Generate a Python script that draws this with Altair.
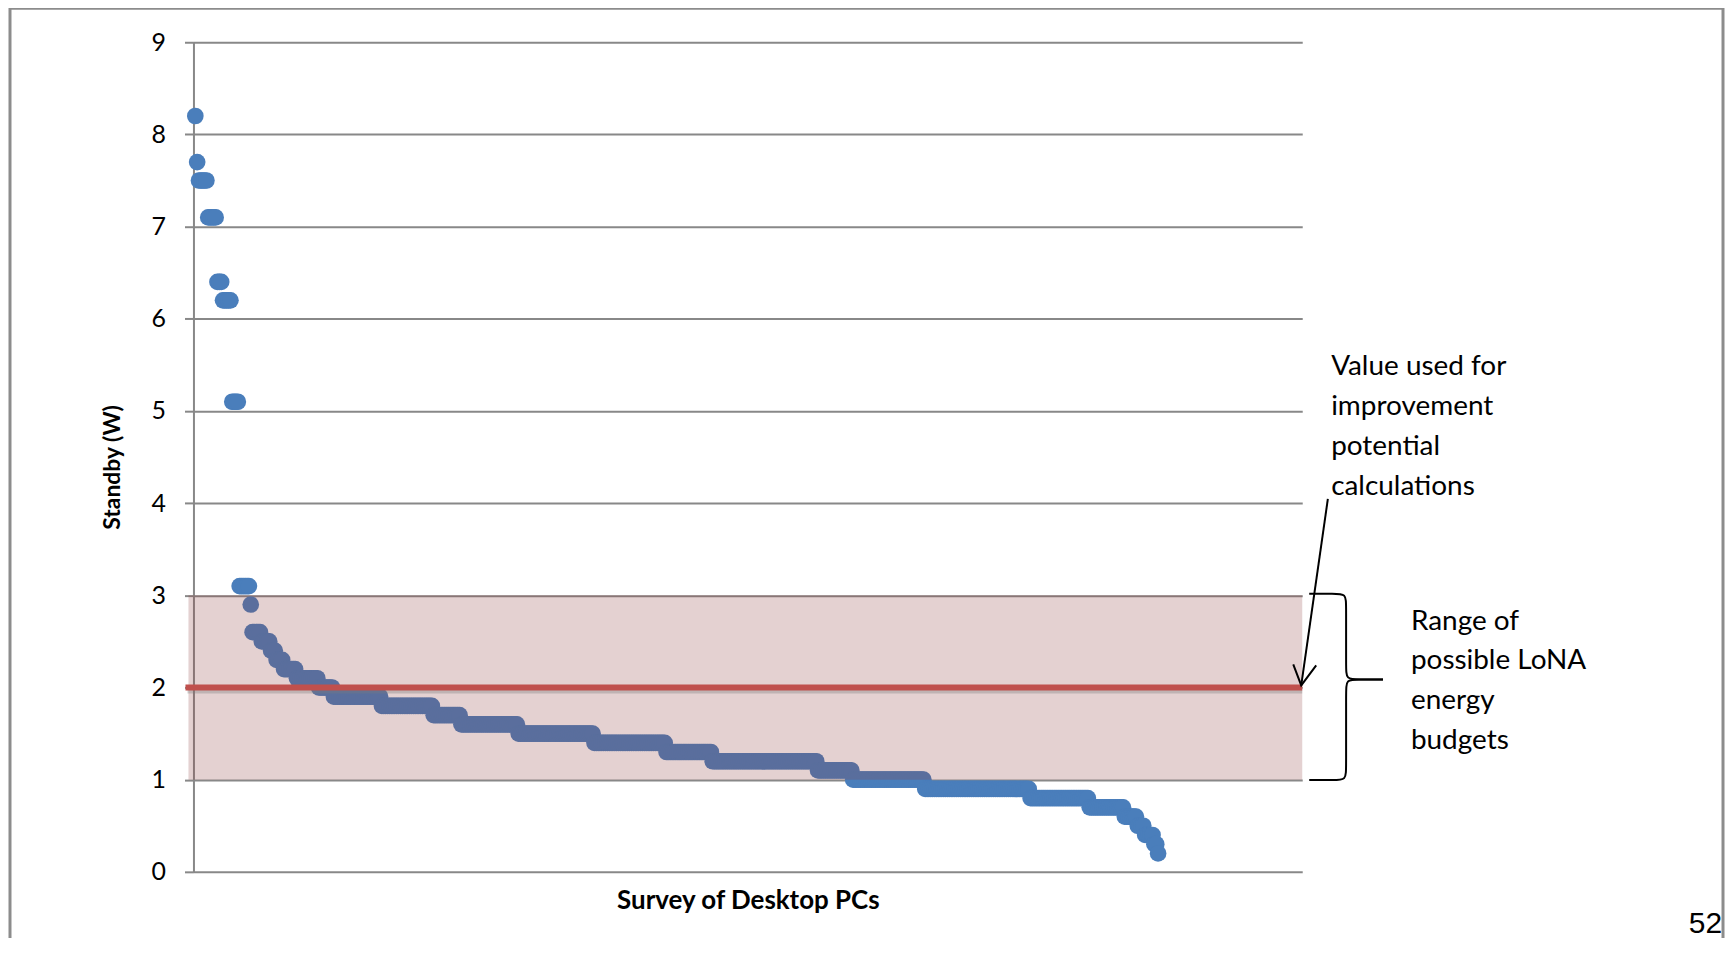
import altair as alt
import pandas as pd

# ---- data (sorted standby values, run-length) ----
levels = [8.2, 7.7, 7.5, 7.1, 6.4, 6.2, 5.1,
          3.1, 2.9, 2.6, 2.5, 2.4, 2.3, 2.2, 2.1, 2.0,
          1.9, 1.8, 1.7, 1.6, 1.5, 1.4, 1.3, 1.2, 1.1, 1.0,
          0.9, 0.8, 0.7, 0.6, 0.5, 0.4, 0.3, 0.2]
counts = [1, 1, 5, 5, 3, 5, 4,
          6, 1, 5, 5, 3, 4, 7, 12, 8,
          26, 28, 15, 31, 41, 39, 25, 57, 19, 39,
          57, 32, 19, 7, 4, 5, 2, 1]
y_ticks = [0, 1, 2, 3, 4, 5, 6, 7, 8, 9]
band_low, band_high = [1], [3]
budget_value = [2]
note_value = ["Value used for", "improvement", "potential", "calculations"]
note_range = ["Range of", "possible LoNA", "energy", "budgets"]

standby = [v for v, c in zip(levels, counts) for _ in range(c)]
pcs = list(range(1, len(standby) + 1))
df = pd.DataFrame({"pc": pcs, "standby": standby})

# ---- layout ----
W, H = 1112, 832
PAD_L, PAD_T = 186, 33
TOTAL_W, TOTAL_H = 1722, 930
XMAX, YMAX = 600, 9
OX, OY = 8 + PAD_L, 8 + PAD_T  # page position of plot origin
FONT = "Lato"


def xd(px):
    return (px - OX) / W * XMAX


def yd(py):
    return (OY + H - py) / H * YMAX


xs = alt.Scale(domain=[0, XMAX], nice=False, zero=False)
ys = alt.Scale(domain=[0, YMAX], nice=False)
one = pd.DataFrame({"a": [0]})

points = alt.Chart(df).mark_circle(size=280, opacity=1, color="#4a7ebb").encode(
    x=alt.X("pc:Q", scale=xs, axis=alt.Axis(
        labels=False, ticks=False, grid=False, domain=False,
        title="Survey of Desktop PCs", titleFont=FONT, titleFontSize=26,
        titleFontWeight="bold", titleColor="black", titleY=29,
        titleBaseline="middle")),
    y=alt.Y("standby:Q", scale=ys, axis=alt.Axis(
        values=y_ticks, format="d", grid=True, gridColor="#888888",
        gridWidth=2, domainColor="#888888", domainWidth=2,
        tickColor="#888888", tickWidth=2, tickSize=9, labelFont=FONT,
        labelFontSize=25, labelColor="black", labelPadding=19,
        title="Standby (W)", titleFont=FONT, titleFontSize=23,
        titleFontWeight="bold", titleColor="black", titleX=-81,
        titleY=H / 2 + 10, titleAngle=270, titleBaseline="middle",
        titleAlign="center")),
)

band = alt.Chart(pd.DataFrame({"lo": band_low, "hi": band_high})).mark_rect(
    color="#8e3e3e", opacity=0.24).encode(
    y=alt.Y("lo:Q", scale=ys), y2="hi:Q",
    x=alt.value(-5), x2=alt.value(W))

line_df = pd.DataFrame({"v": budget_value})
shadow = alt.Chart(line_df).mark_rule(
    color="#7a7a7a", opacity=0.35, strokeWidth=4, yOffset=4).encode(
    y=alt.Y("v:Q", scale=ys), x=alt.value(-6), x2=alt.value(W))
redline = alt.Chart(line_df).mark_rule(color="#c0504d", strokeWidth=6).encode(
    y=alt.Y("v:Q", scale=ys), x=alt.value(-8), x2=alt.value(W))

frame = alt.Chart(one).mark_rect(
    fillOpacity=0, stroke="#8c8c8c", strokeWidth=3).encode(
    x=alt.value(10 - OX), x2=alt.value(1728 - OX),
    y=alt.value(7 - OY), y2=alt.value(TOTAL_H + 20))

txt1 = alt.Chart(pd.DataFrame({"x": [xd(1335)], "y": [yd(375)]})).mark_text(
    text=note_value, align="left", baseline="alphabetic", font=FONT,
    fontSize=28, lineHeight=40, color="black").encode(
    x=alt.X("x:Q", scale=xs), y=alt.Y("y:Q", scale=ys))
txt2 = alt.Chart(pd.DataFrame({"x": [xd(1415)], "y": [yd(630)]})).mark_text(
    text=note_range, align="left", baseline="alphabetic", font=FONT,
    fontSize=28, lineHeight=40, color="black").encode(
    x=alt.X("x:Q", scale=xs), y=alt.Y("y:Q", scale=ys))

# arrow (shaft + two head strokes)
arrow_pts = [
    ("s", 0, 1331.7, 499), ("s", 1, 1305, 686),
    ("a", 0, 1297, 665), ("a", 1, 1305, 686), ("a", 2, 1320, 666),
]
arrow_df = pd.DataFrame({
    "seg": [p[0] for p in arrow_pts], "o": [p[1] for p in arrow_pts],
    "x": [xd(p[2]) for p in arrow_pts], "y": [yd(p[3]) for p in arrow_pts]})
arrow = alt.Chart(arrow_df).mark_line(color="black", strokeWidth=2).encode(
    x=alt.X("x:Q", scale=xs), y=alt.Y("y:Q", scale=ys),
    detail="seg:N", order="o:Q")

# curly brace
brace_pts = [
    ("t", 1313, 594), ("t", 1338, 594), ("t", 1350, 594), ("t", 1350, 606),
    ("t", 1350, 668), ("t", 1350, 680), ("t", 1362, 680), ("t", 1387, 680),
    ("b", 1387, 680), ("b", 1362, 680), ("b", 1350, 680), ("b", 1350, 692),
    ("b", 1350, 769), ("b", 1350, 781), ("b", 1338, 781), ("b", 1313, 781),
]
brace_df = pd.DataFrame({
    "seg": [p[0] for p in brace_pts], "o": list(range(len(brace_pts))),
    "x": [xd(p[1]) for p in brace_pts], "y": [yd(p[2]) for p in brace_pts]})
brace = alt.Chart(brace_df).mark_line(
    color="black", strokeWidth=2, interpolate="basis").encode(
    x=alt.X("x:Q", scale=xs), y=alt.Y("y:Q", scale=ys),
    detail="seg:N", order="o:Q")

page_no = alt.Chart(one).mark_text(
    text="52", align="right", baseline="alphabetic",
    font="Liberation Sans", fontSize=30, color="black").encode(
    x=alt.value(TOTAL_W - PAD_L - 3), y=alt.value(TOTAL_H - PAD_T - 4))

chart = alt.layer(
    frame, points, band, shadow, redline, txt1, txt2, arrow, brace, page_no
).properties(
    width=W, height=H,
    autosize=alt.AutoSizeParams(type="none"),
    padding={"left": PAD_L, "top": PAD_T,
             "right": TOTAL_W - PAD_L - W, "bottom": TOTAL_H - PAD_T - H},
    background="white",
).configure_view(stroke=None)

chart.save("out.html", embed_options={"renderer": "svg", "actions": False})
